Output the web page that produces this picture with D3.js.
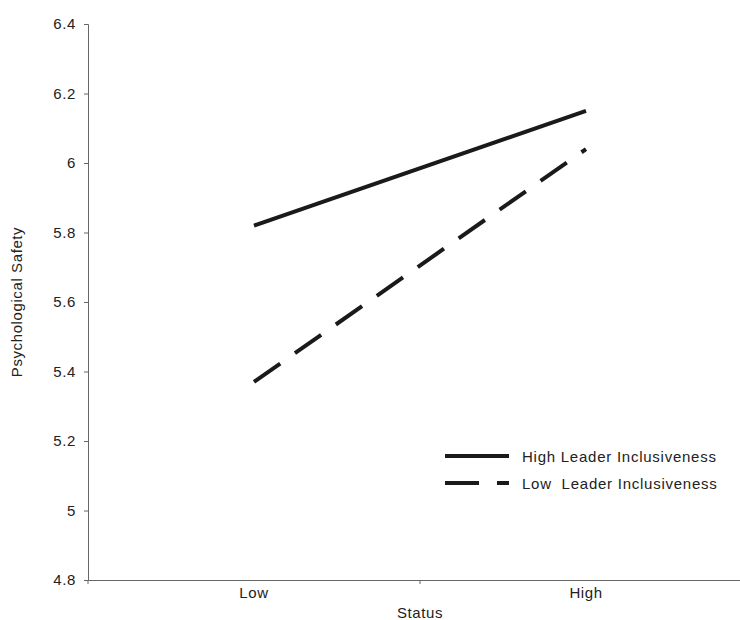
<!DOCTYPE html>
<html>
<head>
<meta charset="utf-8">
<script src="https://cdn.jsdelivr.net/npm/d3@7"></script>
<style>
  body { margin: 0; background: #fff; }
  svg { display: block; font-family: "Liberation Sans", Arial, sans-serif; }
</style>
</head>
<body>
<svg id="chart"></svg>
<script>
const width = 740;
const height = 620;

// data
const statusLevels = ["Low", "High"];
const highInclusiveness = [5.82, 6.15];
const lowInclusiveness = [5.37, 6.04];
const yTicks = [4.8, 5, 5.2, 5.4, 5.6, 5.8, 6, 6.2, 6.4];

const series = [
  { name: "High Leader Inclusiveness", values: highInclusiveness, dash: null },
  { name: "Low Leader Inclusiveness", values: lowInclusiveness, dash: "32,18" }
];

const margin = { left: 88, top: 24, bottom: 40 };
const fontSize = "15px";
const spacing = "0.6px";

const svg = d3.select("#chart")
  .attr("width", width)
  .attr("height", height)
  .attr("viewBox", `0 0 ${width} ${height}`);

svg.append("rect").attr("width", width).attr("height", height).attr("fill", "#fff");

const x = d3.scaleBand().domain(statusLevels).range([margin.left, 752]);
const y = d3.scaleLinear().domain([4.8, 6.4]).range([580, margin.top]);

// y axis
const yAxis = svg.append("g")
  .attr("transform", `translate(${margin.left},0)`)
  .call(d3.axisLeft(y).tickValues(yTicks).tickFormat(d3.format("")).tickSize(4).tickPadding(8));
yAxis.select(".domain").attr("stroke", "#666");
yAxis.selectAll(".tick line").attr("stroke", "#666");
yAxis.selectAll(".tick text").attr("fill", "#222")
  .style("font-size", fontSize).style("letter-spacing", spacing);

// x axis: ticks at band edges like the original
const xAxis = svg.append("g")
  .attr("transform", `translate(0,${y(4.8)})`)
  .call(d3.axisBottom(x).tickSize(0).tickPadding(7));
xAxis.select(".domain").attr("stroke", "#666");
xAxis.selectAll(".tick text").attr("fill", "#222")
  .style("font-size", fontSize).style("letter-spacing", spacing);
xAxis.selectAll(".edge")
  .data([margin.left, x("High")])
  .enter().append("line")
  .attr("class", "edge")
  .attr("x1", d => d).attr("x2", d => d)
  .attr("y1", 0).attr("y2", 4)
  .attr("stroke", "#666");

// axis titles
svg.append("text")
  .attr("x", x("High"))
  .attr("y", 618)
  .attr("text-anchor", "middle")
  .attr("fill", "#222")
  .style("font-size", fontSize).style("letter-spacing", spacing)
  .text("Status");

svg.append("text")
  .attr("transform", `translate(22,302) rotate(-90)`)
  .attr("text-anchor", "middle")
  .attr("fill", "#222")
  .style("font-size", fontSize).style("letter-spacing", spacing)
  .text("Psychological Safety");

// lines
const line = d3.line()
  .x((d, i) => x(statusLevels[i]) + x.bandwidth() / 2)
  .y(d => y(d));

svg.selectAll(".series")
  .data(series)
  .enter().append("path")
  .attr("class", "series")
  .attr("d", d => line(d.values))
  .attr("fill", "none")
  .attr("stroke", "#1a1a1a")
  .attr("stroke-width", 4)
  .attr("stroke-dasharray", d => d.dash);

// legend
const legend = svg.append("g").attr("transform", "translate(445,456)");
const item = legend.selectAll("g")
  .data(series)
  .enter().append("g")
  .attr("transform", (d, i) => `translate(0,${i * 27})`);
item.append("line")
  .attr("x1", 0).attr("x2", 64)
  .attr("stroke", "#1a1a1a")
  .attr("stroke-width", 4)
  .attr("stroke-dasharray", d => d.dash ? "34,18" : null);
item.append("text")
  .attr("x", 77)
  .attr("y", 6)
  .attr("fill", "#222")
  .style("font-size", fontSize).style("letter-spacing", "0.75px")
  .text(d => d.name.replace("Low ", "Low\u00a0 "));
</script>
</body>
</html>
